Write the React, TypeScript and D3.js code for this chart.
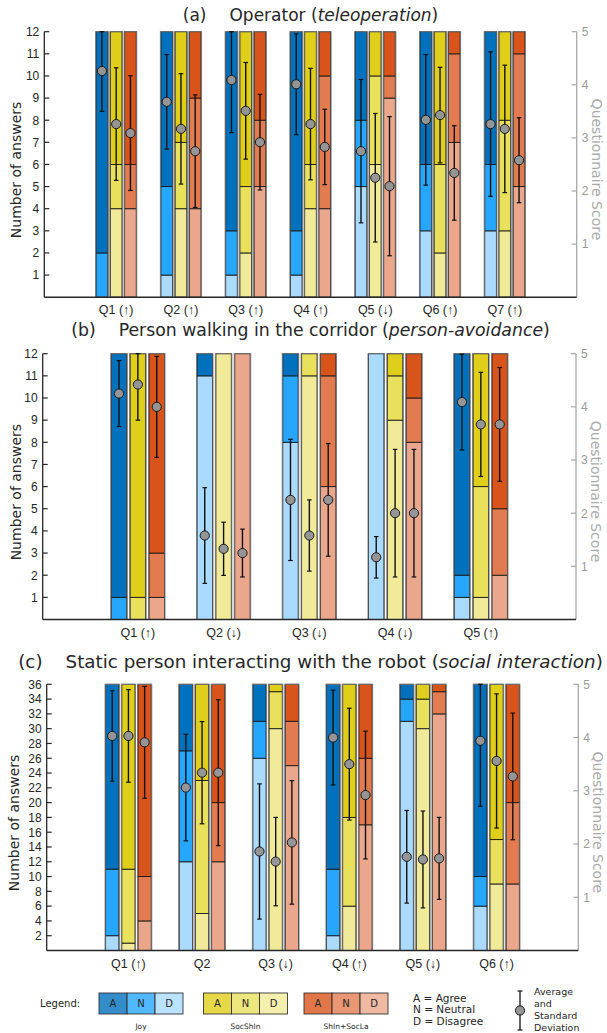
import React, { useEffect, useRef } from "react";
import * as d3 from "d3";

// counts are [Disagree, Neutral, Agree]; mean / sd are on the 1..5 questionnaire scale
const aQuestions = ["Q1 (↑)", "Q2 (↑)", "Q3 (↑)", "Q4 (↑)", "Q5 (↓)", "Q6 (↑)", "Q7 (↑)"];
const aJoyCounts = [[0, 2, 10], [1, 4, 7], [1, 2, 9], [1, 2, 9], [5, 3, 4], [3, 3, 6], [3, 3, 6]];
const aJoyMean = [4.26, 3.68, 4.09, 4.01, 2.75, 3.34, 3.26];
const aJoySd = [0.76, 0.89, 0.99, 0.95, 1.35, 1.23, 1.36];
const aSocCounts = [[4, 2, 6], [4, 3, 5], [2, 3, 7], [4, 2, 6], [6, 4, 2], [2, 4, 6], [3, 5, 4]];
const aSocMean = [3.26, 3.17, 3.51, 3.26, 2.25, 3.43, 3.17];
const aSocSd = [1.06, 1.04, 0.91, 1.05, 1.21, 0.9, 1.2];
const aShinCounts = [[4, 2, 6], [4, 5, 3], [5, 3, 4], [4, 6, 2], [9, 1, 2], [7, 4, 1], [5, 6, 1]];
const aShinMean = [3.09, 2.75, 2.92, 2.83, 2.09, 2.34, 2.58];
const aShinSd = [1.08, 1.06, 0.9, 0.71, 1.31, 0.89, 0.8];

const bQuestions = ["Q1 (↑)", "Q2 (↓)", "Q3 (↓)", "Q4 (↓)", "Q5 (↑)"];
const bJoyCounts = [[0, 1, 11], [11, 0, 1], [8, 3, 1], [12, 0, 0], [1, 1, 10]];
const bJoyMean = [4.25, 1.58, 2.25, 1.17, 4.09];
const bJoySd = [0.62, 0.9, 1.14, 0.39, 0.9];
const bSocCounts = [[0, 1, 11], [12, 0, 0], [11, 1, 0], [9, 2, 1], [1, 5, 6]];
const bSocMean = [4.42, 1.33, 1.58, 2.0, 3.67];
const bSocSd = [0.67, 0.5, 0.67, 1.2, 0.98];
const bShinCounts = [[1, 2, 9], [12, 0, 0], [6, 5, 1], [8, 2, 2], [2, 3, 7]];
const bShinMean = [4.0, 1.25, 2.25, 2.0, 3.67];
const bShinSd = [0.95, 0.45, 1.06, 1.2, 1.07];

const cQuestions = ["Q1 (↑)", "Q2", "Q3 (↓)", "Q4 (↑)", "Q5 (↓)", "Q6 (↑)"];
const cJoyCounts = [[2, 9, 25], [12, 15, 9], [26, 5, 5], [2, 9, 25], [31, 3, 2], [6, 4, 26]];
const cJoyMean = [4.03, 3.06, 1.86, 4.0, 1.76, 3.94];
const cJoySd = [0.85, 1.0, 1.27, 0.89, 0.87, 1.23];
const cSocCounts = [[1, 10, 25], [5, 18, 13], [30, 5, 1], [6, 12, 18], [30, 4, 2], [9, 6, 21]];
const cSocMean = [4.03, 3.34, 1.67, 3.5, 1.71, 3.56];
const cSocSd = [0.87, 0.96, 0.83, 1.05, 0.91, 1.26];
const cShinCounts = [[4, 6, 26], [12, 8, 16], [25, 6, 5], [17, 9, 10], [32, 3, 1], [9, 11, 16]];
const cShinMean = [3.91, 3.34, 2.03, 2.92, 1.73, 3.27];
const cShinSd = [1.05, 1.37, 1.16, 1.2, 0.77, 1.19];

const scoreTicks = [1, 2, 3, 4, 5];
const groupNames = ["Joy", "SocShIn", "ShIn+SocLa"];
const answerKeys = ["A", "N", "D"];
const answerText = ["A = Agree", "N = Neutral", "D = Disagree"];
const sdText = ["Average", "and", "Standard", "Deviation"];

// D, N, A shades
const colors = [
  ["#aadbff", "#27a6fd", "#0071bd"],
  ["#f1eb99", "#e9e05b", "#dfcf1a"],
  ["#eba78b", "#e27c50", "#d9541a"],
];

const panels = [
  {
    tag: "(a)", title: "Operator", italic: "teleoperation", titleY: 21, titleSize: 17,
    questions: aQuestions, max: 12, step: 1, labelX: 20.5,
    left: 44.3, right: 576.7, top: 31.7, bottom: 297.2,
    counts: [aJoyCounts, aSocCounts, aShinCounts],
    means: [aJoyMean, aSocMean, aShinMean],
    sds: [aJoySd, aSocSd, aShinSd],
  },
  {
    tag: "(b)", title: "Person walking in the corridor", italic: "person-avoidance", titleY: 336, titleSize: 17.3,
    questions: bQuestions, max: 12, step: 1, labelX: 20.5,
    left: 42.7, right: 576, top: 353.7, bottom: 619.5,
    counts: [bJoyCounts, bSocCounts, bShinCounts],
    means: [bJoyMean, bSocMean, bShinMean],
    sds: [bJoySd, bSocSd, bShinSd],
  },
  {
    tag: "(c)", title: "Static person interacting with the robot", italic: "social interaction", titleY: 668, titleSize: 18.3,
    questions: cQuestions, max: 36, step: 2, labelX: 18.5,
    left: 46.7, right: 578.3, top: 684.3, bottom: 950.5,
    counts: [cJoyCounts, cSocCounts, cShinCounts],
    means: [cJoyMean, cSocMean, cShinMean],
    sds: [cJoySd, cSocSd, cShinSd],
  },
];

const sans = "'DejaVu Sans', Verdana, sans-serif";
const arial = "'Liberation Sans', Arial, sans-serif";

function drawPanel(svg, p) {
  const g = svg.append("g");
  const n = p.questions.length;
  const x = d3.scaleLinear().domain([-0.11, n + 1.11]).range([p.left, p.right]);
  const y = d3.scaleLinear().domain([0, p.max]).range([p.bottom, p.top]);
  const ys = d3.scaleLinear().domain([0, 5]).range([p.bottom, p.top]);
  const barW = x(0.18) - x(0);

  const stack = d3.stack().keys([0, 1, 2]);

  p.counts.forEach((counts, k) => {
    const off = (k - 1) * 0.22;
    const series = stack(counts);
    series.forEach((s, j) => {
      g.selectAll(null)
        .data(s)
        .enter()
        .append("rect")
        .attr("x", (d, i) => x(i + 1 + off) - barW / 2)
        .attr("width", barW)
        .attr("y", (d) => y(d[1]))
        .attr("height", (d) => y(d[0]) - y(d[1]))
        .attr("fill", colors[k][j])
        .attr("stroke", "#1a1a1a")
        .attr("stroke-width", 0.9);
    });
    // outline of each whole bar
    g.selectAll(null)
      .data(counts)
      .enter()
      .append("rect")
      .attr("x", (d, i) => x(i + 1 + off) - barW / 2 - 0.5)
      .attr("width", barW + 1)
      .attr("y", (d) => y(d3.sum(d)))
      .attr("height", (d) => y(0) - y(d3.sum(d)))
      .attr("fill", "none")
      .attr("stroke", "#777")
      .attr("stroke-width", 1);
  });

  // error bars and means
  p.means.forEach((means, k) => {
    const off = (k - 1) * 0.22;
    const sds = p.sds[k];
    means.forEach((m, i) => {
      const cx = x(i + 1 + off);
      const lo = Math.max(m - sds[i], 0);
      const hi = Math.min(m + sds[i], 5);
      g.append("line")
        .attr("x1", cx).attr("x2", cx)
        .attr("y1", ys(lo)).attr("y2", ys(hi))
        .attr("stroke", "#111").attr("stroke-width", 1.4);
      [lo, hi].forEach((v) => {
        g.append("line")
          .attr("x1", cx - 2.3).attr("x2", cx + 2.3)
          .attr("y1", ys(v)).attr("y2", ys(v))
          .attr("stroke", "#111").attr("stroke-width", 1.2);
      });
      g.append("circle")
        .attr("cx", cx).attr("cy", ys(m)).attr("r", 4.6)
        .attr("fill", "#959595").attr("stroke", "#1a1a1a").attr("stroke-width", 1);
    });
  });

  // left axis
  const leftTicks = d3.range(p.step, p.max + 0.001, p.step);
  g.append("line")
    .attr("x1", p.left).attr("x2", p.left)
    .attr("y1", p.top).attr("y2", p.bottom)
    .attr("stroke", "#262626").attr("stroke-width", 1.3);
  leftTicks.forEach((t) => {
    g.append("line")
      .attr("x1", p.left).attr("x2", p.left + 5)
      .attr("y1", y(t)).attr("y2", y(t))
      .attr("stroke", "#262626").attr("stroke-width", 1.2);
    g.append("text")
      .attr("x", p.left - 5).attr("y", y(t)).attr("dy", "0.36em")
      .attr("text-anchor", "end")
      .style("font-family", arial).style("font-size", "12px")
      .attr("fill", "#262626")
      .text(t);
  });

  // right axis (questionnaire score)
  g.append("line")
    .attr("x1", p.right).attr("x2", p.right)
    .attr("y1", p.top).attr("y2", p.bottom)
    .attr("stroke", "#a8a8a8").attr("stroke-width", 1.3);
  scoreTicks.forEach((t) => {
    g.append("line")
      .attr("x1", p.right - 5).attr("x2", p.right)
      .attr("y1", ys(t)).attr("y2", ys(t))
      .attr("stroke", "#a8a8a8").attr("stroke-width", 1.2);
    g.append("text")
      .attr("x", p.right + 5).attr("y", ys(t)).attr("dy", "0.36em")
      .style("font-family", arial).style("font-size", "12px")
      .attr("fill", "#9a9a9a")
      .text(t);
  });

  // bottom axis
  g.append("line")
    .attr("x1", p.left).attr("x2", p.right)
    .attr("y1", p.bottom).attr("y2", p.bottom)
    .attr("stroke", "#262626").attr("stroke-width", 1.5);
  p.questions.forEach((q, i) => {
    g.append("text")
      .attr("x", x(i + 1)).attr("y", p.bottom + 17)
      .attr("text-anchor", "middle")
      .style("font-family", arial).style("font-size", "12.5px")
      .attr("fill", "#262626")
      .text(q);
  });

  // axis titles
  const midY = (p.top + p.bottom) / 2;
  g.append("text")
    .attr("transform", `translate(${p.labelX}, ${midY + 5.5}) rotate(-90)`)
    .attr("text-anchor", "middle")
    .style("font-family", sans).style("font-size", "14px")
    .attr("fill", "#262626")
    .text("Number of answers");
  g.append("text")
    .attr("transform", `translate(${p.right + 15}, ${midY + 5}) rotate(90)`)
    .attr("text-anchor", "middle")
    .style("font-family", sans).style("font-size", "14px")
    .attr("fill", "#aaaaaa")
    .text("Questionnaire Score");

  // panel title
  const t = g.append("text")
    .attr("x", 310.5).attr("y", p.titleY)
    .attr("text-anchor", "middle")
    .style("font-family", sans).style("font-size", `${p.titleSize}px`)
    .attr("fill", "#262626");
  t.append("tspan").text(p.tag);
  t.append("tspan").attr("dx", 23).text(p.title + " (");
  t.append("tspan").style("font-style", "italic").text(p.italic);
  t.append("tspan").text(")");
}

function drawLegend(svg) {
  const g = svg.append("g");
  g.append("text")
    .attr("x", 40).attr("y", 1003.5).attr("dy", "0.35em")
    .style("font-family", sans).style("font-size", "10px")
    .attr("fill", "#262626")
    .text("Legend:");

  const boxX = [99, 203.5, 304];
  const cellW = 28;
  groupNames.forEach((name, k) => {
    answerKeys.forEach((key, j) => {
      const cx = boxX[k] + j * cellW;
      g.append("rect")
        .attr("x", cx).attr("y", 993).attr("width", cellW).attr("height", 21)
        .attr("fill", colors[k][2 - j]).attr("fill-opacity", 0.8)
        .attr("stroke", "#333").attr("stroke-width", 0.9);
      g.append("text")
        .attr("x", cx + cellW / 2).attr("y", 1003.5).attr("dy", "0.36em")
        .attr("text-anchor", "middle")
        .style("font-family", sans).style("font-size", "10px")
        .attr("fill", "#262626")
        .text(key);
    });
    g.append("text")
      .attr("x", boxX[k] + cellW * 1.5).attr("y", 1026.5).attr("dy", "0.35em")
      .attr("text-anchor", "middle")
      .style("font-family", sans).style("font-size", "7.5px")
      .attr("fill", "#262626")
      .text(name);
  });

  answerText.forEach((s, i) => {
    g.append("text")
      .attr("x", 413).attr("y", 998 + i * 11.5).attr("dy", "0.35em")
      .style("font-family", sans).style("font-size", "10.5px")
      .attr("fill", "#262626")
      .text(s);
  });

  const ix = 520;
  g.append("line").attr("x1", ix).attr("x2", ix).attr("y1", 991).attr("y2", 1030)
    .attr("stroke", "#111").attr("stroke-width", 1.3);
  [991, 1030].forEach((v) => {
    g.append("line").attr("x1", ix - 2.5).attr("x2", ix + 2.5).attr("y1", v).attr("y2", v)
      .attr("stroke", "#111").attr("stroke-width", 1.2);
  });
  g.append("circle").attr("cx", ix).attr("cy", 1010.5).attr("r", 4.6)
    .attr("fill", "#959595").attr("stroke", "#1a1a1a").attr("stroke-width", 1);
  sdText.forEach((s, i) => {
    g.append("text")
      .attr("x", 534).attr("y", 992 + i * 12).attr("dy", "0.35em")
      .style("font-family", sans).style("font-size", "9.5px")
      .attr("fill", "#262626")
      .text(s);
  });
}

export default function App() {
  const svgRef = useRef(null);

  useEffect(() => {
    const svg = d3.select(svgRef.current);
    svg.selectAll("*").remove();
    svg.append("rect").attr("width", 607).attr("height", 1033).attr("fill", "#fff");
    panels.forEach((p) => drawPanel(svg, p));
    drawLegend(svg);
  }, []);

  return (
    <svg
      ref={svgRef}
      width={607}
      height={1033}
      style={{ position: "absolute", left: 0, top: 0 }}
    ></svg>
  );
}
